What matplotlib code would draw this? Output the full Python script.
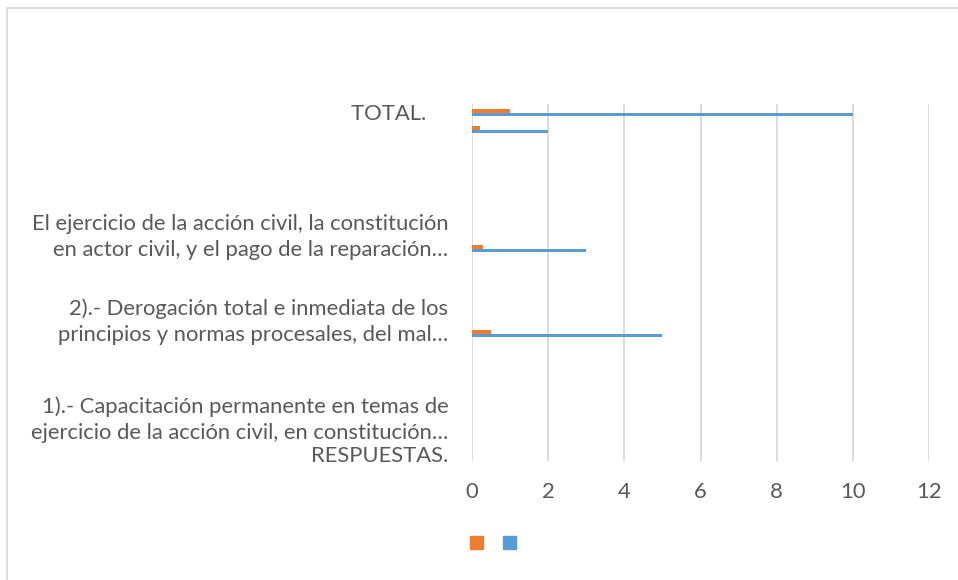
import matplotlib
matplotlib.use("Agg")
import matplotlib.pyplot as plt
from matplotlib.lines import Line2D
from matplotlib.patches import Patch
from matplotlib.transforms import ScaledTranslation

plt.rcParams['font.family'] = ['Lato', 'DejaVu Sans']

# Categories listed from top to bottom (Excel order reversed)
categories = [
    "TOTAL.    ",
    "", "", "", "", "", "",
    "El ejercicio de la acción civil, la constitución\nen actor civil, y el pago de la reparación…",
    "", "", "", "",
    "2).- Derogación total e inmediata de los\nprincipios y normas procesales, del mal…",
    "", "", "", "", "",
    "1).- Capacitación permanente en temas de\nejercicio de la acción civil, en constitución…",
    "",
    "RESPUESTAS.",
]
serie_naranja = [1, 0.2, 0, 0, 0, 0, 0, 0, 0.3, 0, 0, 0, 0, 0.5, 0, 0, 0, 0, 0, 0, 0]
serie_azul = [10, 2, 0, 0, 0, 0, 0, 0, 3, 0, 0, 0, 0, 5, 0, 0, 0, 0, 0, 0, 0]
series_names = ["", ""]
x_ticks = [0, 2, 4, 6, 8, 10, 12]

ORANGE = "#ED7D31"
BLUE = "#5B9BD5"
TEXT = "#595959"
GRID = "#D9D9D9"
FS = 15.8

W, H = 958, 580
fig = plt.figure(figsize=(W / 100, H / 100), dpi=100)
ax = fig.add_axes([472 / W, 1 - 461 / H, (929 - 472) / W, (461 - 104) / H])

n = len(categories)
pos = list(range(n))
bh = 0.235
ax.barh([p - bh / 2 for p in pos], serie_naranja, height=bh, color=ORANGE, label=series_names[0])
ax.barh([p + bh / 2 for p in pos], serie_azul, height=bh, color=BLUE, label=series_names[1])

ax.set_ylim(n - 0.5, -0.5)
ax.set_xlim(0, 12)
ax.set_xticks(x_ticks)
ax.set_xticklabels([str(t) for t in x_ticks])
ax.set_yticks(pos)
ax.set_yticklabels(categories, linespacing=1.4)
ax.tick_params(axis='y', length=0, pad=17, labelsize=FS, labelcolor=TEXT)
ax.tick_params(axis='x', length=0, pad=15, labelsize=FS, labelcolor=TEXT)
ax.xaxis.grid(True, color=GRID, linewidth=1.3)
ax.set_axisbelow(True)
for s in ax.spines.values():
    s.set_visible(False)

# nudge the two crowded bottom labels apart (as in the reference)
ylabels = ax.get_yticklabels()
for idx, dy in ((n - 3, 4), (n - 1, -1)):
    lab = ylabels[idx]
    lab.set_transform(lab.get_transform() + ScaledTranslation(0, dy / 100, fig.dpi_scale_trans))

# legend (empty series names)
handles = [Patch(color=ORANGE), Patch(color=BLUE)]
fig.legend(handles, series_names, ncol=2, loc='center', bbox_to_anchor=(493 / W, 1 - 544 / H),
           frameon=False, handlelength=0.62, handleheight=0.62, handletextpad=0.0, columnspacing=1.0,
           fontsize=15)

# chart border (left and top visible)
fig.add_artist(Line2D([6.5 / W, 6.5 / W], [0, 1 - 7.5 / H], color=GRID, linewidth=1.3))
fig.add_artist(Line2D([6.5 / W, 1], [1 - 7.5 / H, 1 - 7.5 / H], color=GRID, linewidth=1.3))

fig.savefig("out.png", dpi=100)
